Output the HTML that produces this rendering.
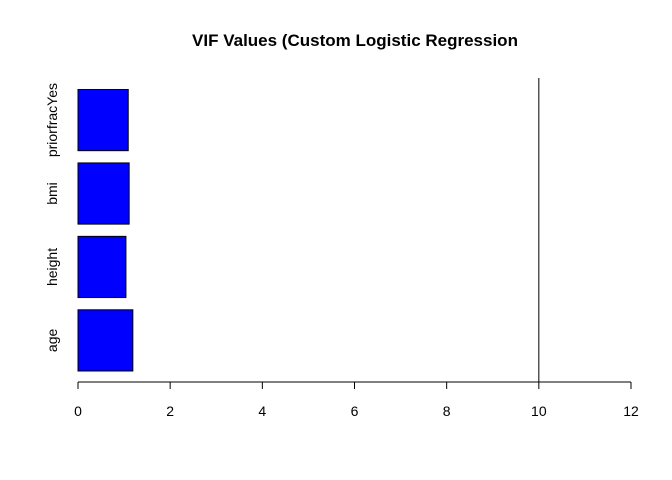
<!DOCTYPE html>
<html><head><meta charset="utf-8"><style>body{margin:0;background:#fff}svg{display:block;font-family:"Liberation Sans",sans-serif}</style></head>
<body>
<svg width="672" height="480" id="c">
<text x="355" y="46" text-anchor="middle" font-size="17" font-weight="bold">VIF Values (Custom Logistic Regression</text>
</svg>
<script>
const categories=["age","height","bmi","priorfracYes"];
const vifValues=[1.19,1.04,1.11,1.09];
const tickLabels=[0,2,4,6,8,10,12];
const threshold=10;
const svg=document.getElementById('c');
const NS='http://www.w3.org/2000/svg';
const xs=v=>78+v*(631-78)/12;
const ys=v=>371-(v-0.2)*61.2;
function mk(t,a){const e=document.createElementNS(NS,t);for(const k in a)e.setAttribute(k,a[k]);svg.appendChild(e);return e;}
categories.forEach((c,i)=>{
 const y0=ys(0.2+1.2*i),y1=ys(1.2+1.2*i);
 const r=mk('rect',{x:xs(0),y:y1,width:xs(vifValues[i])-xs(0),height:y0-y1,fill:'#0000ff',stroke:'#000','stroke-width':1});
 
 
 const ty=(y0+y1)/2;
 const t=mk('text',{x:57,y:ty,'font-size':14,'text-anchor':'middle',transform:`rotate(-90 57 ${ty})`});
 t.textContent=c;
 
 
});
const ax=mk('line',{x1:xs(0),x2:xs(12),y1:382,y2:382,stroke:'#000'});


tickLabels.forEach(v=>{
 const l=mk('line',{x1:xs(v),x2:xs(v),y1:382,y2:389,stroke:'#000'});
 
 
 const t=mk('text',{x:xs(v),y:416,'font-size':14,'text-anchor':'middle'});
 t.textContent=v;
 
 
});
const th=mk('line',{x1:xs(threshold),x2:xs(threshold),y1:78,y2:382,stroke:'#000'});


</script>
</body></html>
